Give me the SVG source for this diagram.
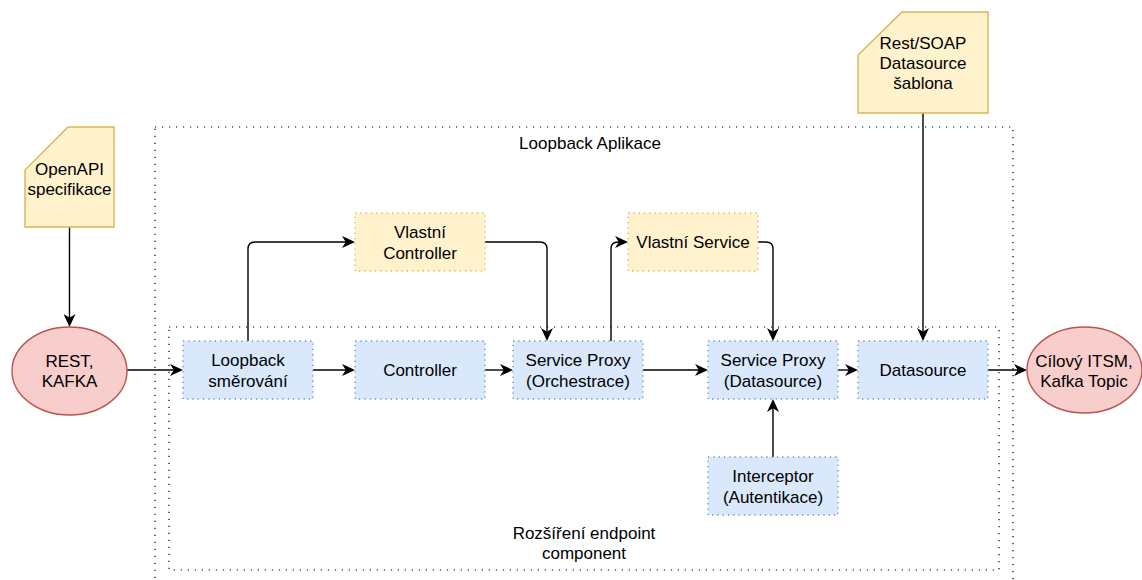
<svg xmlns="http://www.w3.org/2000/svg" width="1142" height="580" viewBox="0 0 1142 580">
<defs>
<style>
text{font-family:"Liberation Sans",Arial,Helvetica,sans-serif;font-size:17px;fill:#000;text-anchor:middle}
.blue{fill:#dae8fc;stroke:#6c8ebf;stroke-width:1.3;stroke-dasharray:1.3 4}
.yel{fill:#fff2cc;stroke:#d6b656;stroke-width:1.3;stroke-dasharray:1.3 4}
.note{fill:#fff2cc;stroke:#d6b656;stroke-width:1.4}
.ell{fill:#f8cecc;stroke:#b85450;stroke-width:1.4}
.cont{fill:none;stroke:#000;stroke-width:1.2;stroke-dasharray:1.2 5.8}
.edge{fill:none;stroke:#000;stroke-width:1.4;marker-end:url(#arr)}
</style>
<marker id="arr" markerUnits="userSpaceOnUse" viewBox="0 0 13 12" markerWidth="13" markerHeight="12" refX="9" refY="6" orient="auto">
<path d="M0,0 L13,6 L0,12 L3.8,6 Z" fill="#000"/>
</marker>
</defs>
<rect width="1142" height="580" fill="#fff"/>

<g id="container-app">
<rect class="cont" x="155" y="127" width="858" height="470"/>
<text x="590" y="149">Loopback Aplikace</text>
</g>
<g id="container-ext">
<rect class="cont" x="169" y="327" width="830" height="243"/>
<text x="584" y="539">Rozšíření endpoint</text>
<text x="584" y="559">component</text>
</g>

<g id="connectors">
<path class="edge" d="M69.5,227 L69.5,323"/>
<path class="edge" d="M127,370 L179,370"/>
<path class="edge" d="M313,370 L351,370"/>
<path class="edge" d="M485,370 L509,370"/>
<path class="edge" d="M643,370 L704,370"/>
<path class="edge" d="M838,370 L854,370"/>
<path class="edge" d="M988,370 L1023,370"/>
<path class="edge" d="M248,341 L248,249 Q248,242 255,242 L351,242"/>
<path class="edge" d="M485,242 L540,242 Q547,242 547,249 L547,337"/>
<path class="edge" d="M611,341 L611,249 Q611,242 618,242 L624,242"/>
<path class="edge" d="M758,242 L766,242 Q773,242 773,249 L773,337"/>
<path class="edge" d="M923,113 L923,337"/>
<path class="edge" d="M773,457 L773,403"/>
</g>

<g id="openapi">
<path class="note" d="M68,127 L114,127 L114,227 L25,227 L25,170 Z"/>
<text x="69.5" y="175">OpenAPI</text>
<text x="69.5" y="195">specifikace</text>
</g>
<g id="restsoap">
<path class="note" d="M902,12 L988,12 L988,113 L858,113 L858,55 Z"/>
<text x="923" y="49">Rest/SOAP</text>
<text x="923" y="69">Datasource</text>
<text x="923" y="89">šablona</text>
</g>
<g id="rest-kafka">
<ellipse class="ell" cx="69.5" cy="371" rx="57.5" ry="44"/>
<text x="69.5" y="367">REST,</text>
<text x="69.5" y="387">KAFKA</text>
</g>
<g id="target">
<ellipse class="ell" cx="1084.5" cy="370" rx="57.5" ry="43"/>
<text x="1084" y="367">Cílový ITSM,</text>
<text x="1084" y="387">Kafka Topic</text>
</g>
<g id="loopback-routing">
<rect class="blue" x="183" y="341" width="130" height="58"/>
<text x="248" y="366">Loopback</text>
<text x="248" y="387">směrování</text>
</g>
<g id="controller">
<rect class="blue" x="355" y="341" width="130" height="58"/>
<text x="420" y="376">Controller</text>
</g>
<g id="sp-orchestrace">
<rect class="blue" x="513" y="341" width="130" height="58"/>
<text x="578" y="366">Service Proxy</text>
<text x="578" y="387">(Orchestrace)</text>
</g>
<g id="sp-datasource">
<rect class="blue" x="708" y="341" width="130" height="58"/>
<text x="773" y="366">Service Proxy</text>
<text x="773" y="387">(Datasource)</text>
</g>
<g id="datasource">
<rect class="blue" x="858" y="341" width="130" height="58"/>
<text x="923" y="376">Datasource</text>
</g>
<g id="interceptor">
<rect class="blue" x="708" y="457" width="130" height="58"/>
<text x="773" y="482">Interceptor</text>
<text x="773" y="503">(Autentikace)</text>
</g>
<g id="vlastni-controller">
<rect class="yel" x="355" y="213" width="130" height="58"/>
<text x="420" y="238">Vlastní</text>
<text x="420" y="259">Controller</text>
</g>
<g id="vlastni-service">
<rect class="yel" x="628" y="213" width="130" height="58"/>
<text x="693" y="248">Vlastní Service</text>
</g>
</svg>
